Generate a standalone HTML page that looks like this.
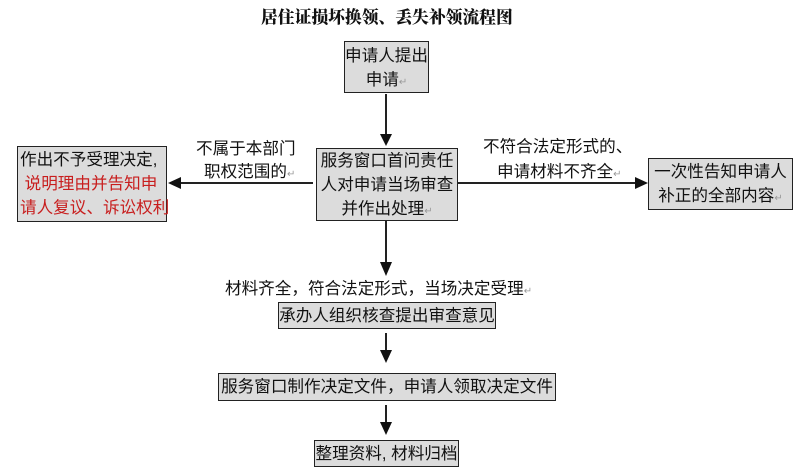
<!DOCTYPE html>
<html><head><meta charset="utf-8"><style>
body{margin:0;width:798px;height:475px;background:#fff;position:relative;overflow:hidden;font-family:"Liberation Sans","Noto Sans CJK SC","WenQuanYi Zen Hei",sans-serif;color:#111}
.b{position:absolute;background:#dcdcdc;border:1px solid #222;box-sizing:border-box;font-size:16.6px;line-height:24px;text-align:center;white-space:nowrap}
.t{position:absolute;font-size:16.6px;line-height:22px;white-space:nowrap}
.r{color:#c81e1e}
.m{color:#999;font-size:10px}
</style></head><body>
<div class="t" style="left:261px;top:5px;font-weight:900;font-family:'Noto Serif CJK SC',serif;font-size:16.8px">居住证损坏换领、丢失补领流程图</div>

<div class="b" style="left:344px;top:41px;width:85px;height:52px;padding-top:2px">申请人提出<br>申请<span class="m">↵</span></div>
<div class="b" style="left:316px;top:148px;width:142px;height:73px;padding-top:0px">服务窗口首问责任<br>人对申请当场审查<br>并作出处理<span class="m">↵</span></div>
<div class="b" style="left:17px;top:146px;width:150px;height:76px;padding-top:1px;text-align:left;padding-left:2px">作出不予受理决定,<br><span class="r">&nbsp;说明理由并告知申</span><br><span class="r">请人复议、诉讼权利</span></div>
<div class="b" style="left:648px;top:158px;width:145px;height:52px;padding-top:1px">一次性告知申请人<br>补正的全部内容<span class="m">↵</span></div>
<div class="b" style="left:278px;top:302px;width:218px;height:27px;line-height:25px">承办人组织核查提出审查意见</div>
<div class="b" style="left:218px;top:373px;width:338px;height:28px;line-height:26px">服务窗口制作决定文件，申请人领取决定文件</div>
<div class="b" style="left:314px;top:440px;width:145px;height:27px;line-height:25px">整理资料, 材料归档</div>

<div class="t" style="left:196px;top:138px">不属于本部门</div>
<div class="t" style="left:204px;top:161px">职权范围的<span class="m">↵</span></div>
<div class="t" style="left:483px;top:136px">不符合法定形式的、</div>
<div class="t" style="left:497px;top:161px">申请材料不齐全<span class="m">↵</span></div>
<div class="t" style="left:225px;top:278px">材料齐全，符合法定形式，当场决定受理<span class="m">↵</span></div>

<svg width="798" height="475" style="position:absolute;left:0;top:0">
<g stroke="#222" stroke-width="2" fill="none">
<line x1="386" y1="94" x2="386" y2="134"/>
<line x1="386" y1="221" x2="386" y2="262"/>
<line x1="386" y1="333" x2="386" y2="350"/>
<line x1="386" y1="405" x2="386" y2="422"/>
<line x1="313" y1="183" x2="180" y2="183"/>
<line x1="458" y1="183" x2="636" y2="183"/>
</g>
<g fill="#111">
<polygon points="380,134 392,134 386,146"/>
<polygon points="380,262 392,262 386,276"/>
<polygon points="380,350 392,350 386,363"/>
<polygon points="380,422 392,422 386,435"/>
<polygon points="181,177 181,189 168,183"/>
<polygon points="635,177 635,189 648,183"/>
</g>
</svg>
</body></html>
